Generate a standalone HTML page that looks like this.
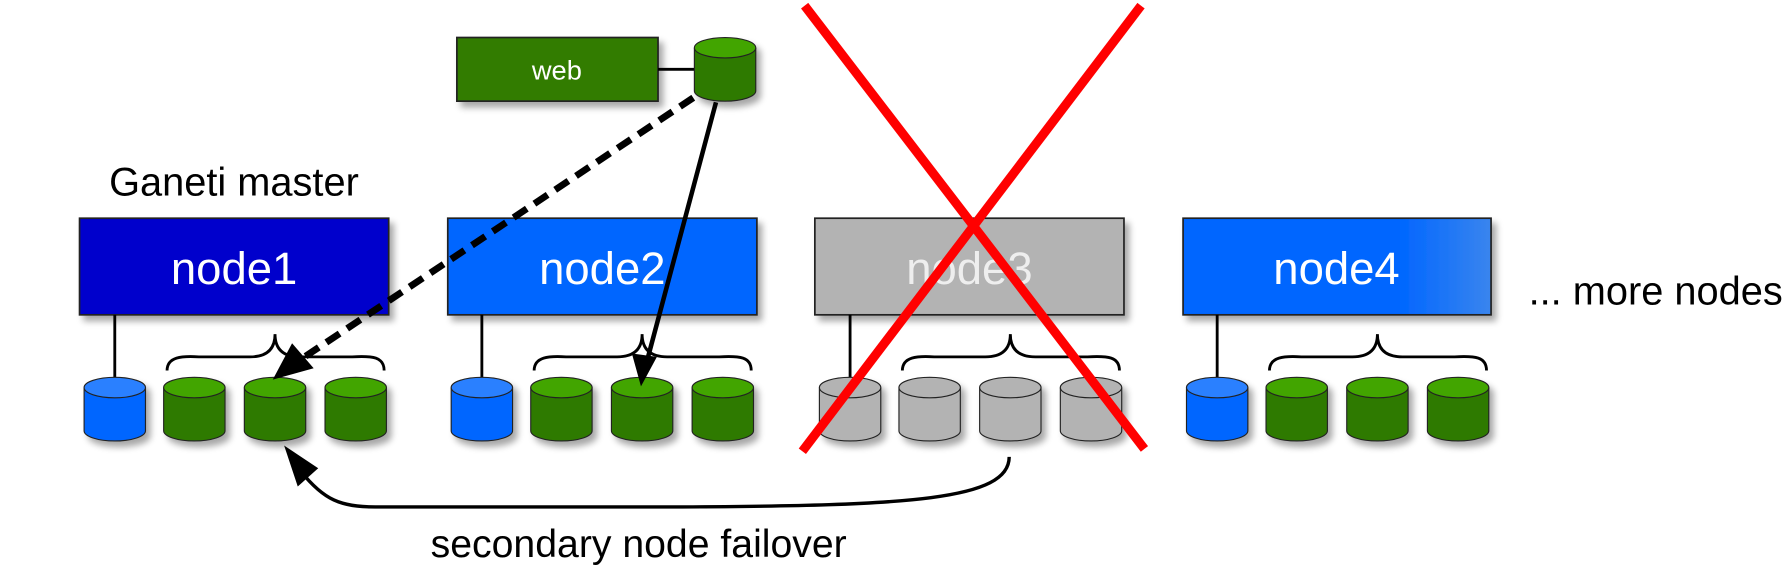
<!DOCTYPE html>
<html><head><meta charset="utf-8"><style>html,body{margin:0;padding:0;background:#fff}svg{display:block}</style></head>
<body>
<svg width="1782" height="566" viewBox="0 0 1568 498" preserveAspectRatio="none" xmlns="http://www.w3.org/2000/svg" font-family="Liberation Sans, sans-serif">
<defs>
<filter id="sh" x="-10%" y="-10%" width="130%" height="140%"><feGaussianBlur in="SourceAlpha" stdDeviation="3"/><feOffset dx="4" dy="5"/><feComponentTransfer><feFuncA type="linear" slope="0.35"/></feComponentTransfer><feMerge><feMergeNode/><feMergeNode in="SourceGraphic"/></feMerge></filter>
<linearGradient id="g4" x1="0" x2="1"><stop offset="0.7" stop-color="#0066ff"/><stop offset="1" stop-color="#3a85ee"/></linearGradient>
<g id="cb"><path d="M0 9 v38 a27 9 0 0 0 54 0 v-38" fill="#0066ff" stroke="#222" stroke-width="1"/><ellipse cx="27" cy="9" rx="27" ry="9" fill="#2a80ff" stroke="#222" stroke-width="1"/></g>
<g id="cg"><path d="M0 9 v38 a27 9 0 0 0 54 0 v-38" fill="#2f7a00" stroke="#222" stroke-width="1"/><ellipse cx="27" cy="9" rx="27" ry="9" fill="#43a500" stroke="#222" stroke-width="1"/></g>
<g id="cy"><path d="M0 9 v38 a27 9 0 0 0 54 0 v-38" fill="#b3b3b3" stroke="#222" stroke-width="1"/><ellipse cx="27" cy="9" rx="27" ry="9" fill="#b3b3b3" stroke="#222" stroke-width="1"/></g>
<path id="br" d="M147 326 C147 314 160 313 175 314 L220 314 C236 314 242 306 242 294 C242 306 248 314 264 314 L310 314 C328 313 338 314 338 326" fill="none" stroke="#000" stroke-width="2.5"/>
</defs>

<text x="96" y="172" font-size="35">Ganeti master</text>
<text x="1345" y="268" font-size="35">... more nodes</text>

<g filter="url(#sh)">
<rect x="70" y="192" width="272" height="85" fill="#0000cc" stroke="#222" stroke-width="1.5"/>
<rect x="394" y="192" width="272" height="85" fill="#0066ff" stroke="#222" stroke-width="1.5"/>
<rect x="717" y="192" width="272" height="85" fill="#b3b3b3" stroke="#222" stroke-width="1.5"/>
<rect x="1041" y="192" width="271" height="85" fill="url(#g4)" stroke="#222" stroke-width="1.5"/>
<rect x="402" y="33" width="177" height="56" fill="#317b00" stroke="#222" stroke-width="1.5"/>
</g>
<g font-size="40" fill="#fff" text-anchor="middle">
<text x="206" y="250">node1</text>
<text x="530" y="250">node2</text>
<text x="853" y="250" fill="#eee">node3</text>
<text x="1176" y="250">node4</text>
</g>
<text x="490" y="70" font-size="24" fill="#fff" text-anchor="middle">web</text>
<line x1="579" y1="61" x2="612" y2="61" stroke="#000" stroke-width="2.5"/>
<use href="#cg" x="611" y="33" filter="url(#sh)"/>

<g>
<line x1="101" y1="277" x2="101" y2="333" stroke="#000" stroke-width="2.5"/>
<use href="#br"/>
<g filter="url(#sh)"><use href="#cb" x="74" y="332"/><use href="#cg" x="144" y="332"/><use href="#cg" x="215" y="332"/><use href="#cg" x="286" y="332"/></g>
</g>
<g transform="translate(323,0)">
<line x1="101" y1="277" x2="101" y2="333" stroke="#000" stroke-width="2.5"/>
<use href="#br"/>
<g filter="url(#sh)"><use href="#cb" x="74" y="332"/><use href="#cg" x="144" y="332"/><use href="#cg" x="215" y="332"/><use href="#cg" x="286" y="332"/></g>
</g>
<g transform="translate(647,0)">
<line x1="101" y1="277" x2="101" y2="333" stroke="#000" stroke-width="2.5"/>
<use href="#br"/>
<g filter="url(#sh)"><use href="#cy" x="74" y="332"/><use href="#cy" x="144" y="332"/><use href="#cy" x="215" y="332"/><use href="#cy" x="286" y="332"/></g>
</g>
<g transform="translate(970,0)">
<line x1="101" y1="277" x2="101" y2="333" stroke="#000" stroke-width="2.5"/>
<use href="#br"/>
<g filter="url(#sh)"><use href="#cb" x="74" y="332"/><use href="#cg" x="144" y="332"/><use href="#cg" x="215" y="332"/><use href="#cg" x="286" y="332"/></g>
</g>

<line x1="610" y1="86" x2="265" y2="316" stroke="#000" stroke-width="6" stroke-dasharray="14,8"/>
<polygon points="240,334 257,302 276,324" fill="#000"/>
<line x1="630" y1="90" x2="570" y2="315" stroke="#000" stroke-width="4"/>
<polygon points="564,340 556,311 578,314" fill="#000"/>
<path d="M888 402 C888 440 800 445 600 446 L330 446 C300 446 285 440 265 415" fill="none" stroke="#000" stroke-width="3"/>
<polygon points="250,392 262,428 280,412" fill="#000"/>
<text x="562" y="490" font-size="34.5" text-anchor="middle">secondary node failover</text>

<line x1="708" y1="5" x2="1007" y2="395" stroke="#ff0000" stroke-width="8"/>
<line x1="1004" y1="5" x2="706" y2="397" stroke="#ff0000" stroke-width="8"/>
</svg>
</body></html>
